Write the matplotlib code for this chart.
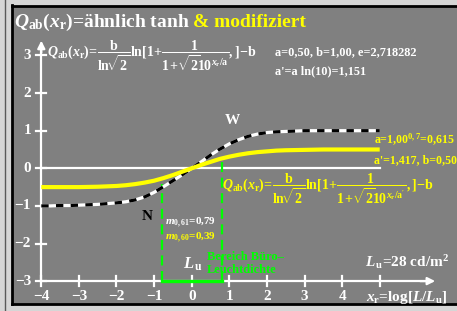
import matplotlib

matplotlib.use("Agg")
import matplotlib.pyplot as plt
from matplotlib.lines import Line2D

plt.rcParams["font.family"] = ["Liberation Serif", "DejaVu Serif"]
plt.rcParams["font.weight"] = "bold"
plt.rcParams["mathtext.fontset"] = "custom"
plt.rcParams["mathtext.rm"] = "Liberation Serif:bold"
plt.rcParams["mathtext.it"] = "Liberation Serif:italic:bold"
plt.rcParams["mathtext.bf"] = "Liberation Serif:bold"

# --- data ------------------------------------------------------------------
x_ticks = [-4, -3, -2, -1, 0, 1, 2, 3, 4, 5]
x_labels = ["\u22124", "\u22123", "\u22122", "\u22121", "0", "1", "2", "3", "4", ""]
y_ticks = [-3, -2, -1, 0, 1, 2, 3]
y_labels = ["\u22123", "\u22122", "\u22121", "0", "1", "2", "3"]

curve_x = [-4.0, -3.75, -3.5, -3.25, -3.0, -2.75, -2.5, -2.25, -2.0, -1.75,
           -1.5, -1.25, -1.0, -0.75, -0.5, -0.25, 0.0, 0.25, 0.5, 0.75,
           1.0, 1.25, 1.5, 1.75, 2.0, 2.25, 2.5, 2.75, 3.0, 3.5, 4.0, 4.5, 5.0]
black_y = [-1.00, -1.00, -0.99, -0.99, -0.98, -0.97, -0.96, -0.94, -0.92, -0.89,
           -0.84, -0.76, -0.64, -0.49, -0.33, -0.17, 0.00, 0.17, 0.35, 0.51,
           0.65, 0.76, 0.85, 0.91, 0.95, 0.97, 0.98, 0.99, 1.00, 1.00, 1.00, 1.00, 1.00]
yellow_y = [-0.50, -0.50, -0.50, -0.50, -0.50, -0.495, -0.49, -0.48, -0.47, -0.45,
            -0.42, -0.38, -0.33, -0.26, -0.18, -0.09, 0.00, 0.09, 0.17, 0.25,
            0.31, 0.36, 0.40, 0.43, 0.45, 0.47, 0.48, 0.485, 0.49, 0.50, 0.50, 0.50, 0.50]

green_x = [-0.8, 0.8]
green_top = [-0.42, 0.18]
axis_bottom = -3
x_arrow_end = 6.55
y_arrow_end = 3.47

# --- layout: pixel grid of the 457x311 reference ---------------------------
W, H = 457, 311
X0, Y0, S = 191.7, 168.3, 37.6  # pixel of data origin, pixels per unit


def P(px, py):
    return (px - X0) / S, (Y0 - py) / S


fig = plt.figure(figsize=(W / 100, H / 100), dpi=100, facecolor="#d6d6d6")
fig.add_artist(Line2D([4.5 / W, 4.5 / W], [0, 1], color="#5a5a5a", lw=1.0))
ax = fig.add_axes([12 / W, (H - 304) / H, (W + 6 - 12) / W, (304 - 5.5) / H])
ax.set_facecolor("#808080")
ax.set_xlim((12 - X0) / S, (W + 6 - X0) / S)
ax.set_ylim((Y0 - 304) / S, (Y0 - 5.5) / S)
ax.set_xticks([])
ax.set_yticks([])
for side in ("left", "top", "bottom"):
    ax.spines[side].set_color("black")
    ax.spines[side].set_linewidth(2.0)
ax.spines["right"].set_visible(False)

white = "white"
yellow = "#ffff00"
green = "#00ff00"

# axes drawn inside the plot
ax.plot([x_ticks[0], x_ticks[-1]], [0, 0], color=white, lw=1.6, zorder=2)
ax.plot([x_ticks[0], x_ticks[0]], [axis_bottom, 3.2], color=white, lw=1.6, zorder=2)
ax.plot([x_ticks[0], 6.3], [axis_bottom, axis_bottom], color=white, lw=1.6, zorder=2)
ax.annotate("", xy=(x_ticks[0], y_arrow_end), xytext=(x_ticks[0], 3.0),
            arrowprops=dict(arrowstyle="-|>", color=white, lw=1.6, mutation_scale=11))
ax.annotate("", xy=(x_arrow_end, axis_bottom), xytext=(6.0, axis_bottom),
            arrowprops=dict(arrowstyle="-|>", color=white, lw=1.6, mutation_scale=11))
tk = 5 / S
for xt, lab in zip(x_ticks, x_labels):
    ax.plot([xt, xt], [axis_bottom - tk, axis_bottom + tk], color=white, lw=1.6)
    ax.text(xt, P(0, 297)[1], lab, color=white, fontsize=11, ha="center", va="center")
for yt, lab in zip(y_ticks, y_labels):
    ax.plot([x_ticks[0] - tk, x_ticks[0] + tk], [yt, yt], color=white, lw=1.6)
    ax.text(P(31, 0)[0], yt, lab, color=white, fontsize=11, ha="right", va="center")

# curves
ax.plot(curve_x, black_y, color=white, lw=2.3, solid_capstyle="butt", zorder=3)
ax.plot(curve_x, black_y, color="black", lw=2.3, dashes=(2.3, 2.3), zorder=3)
ax.plot(curve_x, yellow_y, color=yellow, lw=3.0, solid_capstyle="butt", zorder=4)

# green office-luminance range
for gx, gt in zip(green_x, green_top):
    ax.plot([gx, gx], [axis_bottom, gt], color=green, lw=1.6, dashes=(4.5, 2.5), zorder=2)
ax.plot(green_x, [axis_bottom, axis_bottom], color=green, lw=2.4, zorder=3)

# texts
ax.text(*P(14, 27), r"$Q_{\mathrm{ab}}(x_{\mathrm{r}})$=ähnlich tanh", color=white,
        fontsize=14, ha="left", va="baseline")
ax.text(*P(193, 27), "& modifiziert", color=yellow, fontsize=14, ha="left", va="baseline")

formula = (r"$Q_{\mathrm{ab}}(x_{\mathrm{r}})\!=\!\dfrac{\mathrm{b}}{\mathrm{ln}\!\sqrt{2}}"
           r"\mathrm{ln}[1\!+\!\dfrac{1}{1\!+\!\sqrt{2}\!10^{x_{\mathrm{r}}/\mathrm{a}}},]\!-\!\mathrm{b}$")
ax.text(*P(47, 56), formula, color=white, fontsize=10, ha="left", va="center")
ax.text(*P(275, 52), "a=0,50, b=1,00, e=2,718282", color=white, fontsize=8.8,
        ha="left", va="center")
ax.text(*P(275, 71), "a'=a ln(10)=1,151", color=white, fontsize=8.8, ha="left", va="center")

formula_y = (r"$Q_{\mathrm{ab}}(x_{\mathrm{r}})\!=\!\dfrac{\mathrm{b}}{\mathrm{ln}\!\sqrt{2}}"
             r"\mathrm{ln}[1\!+\!\dfrac{1}{1\!+\!\sqrt{2}\!10^{x_{\mathrm{r}}/\mathrm{a'}}},]\!-\!\mathrm{b}$")
ax.text(*P(222, 189), formula_y, color=yellow, fontsize=10, ha="left", va="center")
ax.text(*P(374, 140), r"a=1,00$^{\mathrm{0,7}}$=0,615", color=yellow, fontsize=8.6,
        ha="left", va="center")
ax.text(*P(374, 160), "a'=1,417, b=0,50", color=yellow, fontsize=8.6, ha="left", va="center")

ax.text(*P(232, 121), "W", color=white, fontsize=11, ha="center", va="center")
ax.text(*P(147, 216), "N", color="black", fontsize=11, ha="center", va="center")

ax.text(*P(165, 223), r"$m_{0,61}$=0,79", color=white, fontsize=8, ha="left", va="center")
ax.text(*P(165, 238), r"$m_{0,60}$=0,39", color=yellow, fontsize=8, ha="left", va="center")
ax.text(*P(183, 264), r"$L_{\,\mathrm{u}}$", color=white, fontsize=12, ha="left", va="center")
ax.text(*P(207, 257), "Bereich Büro\u2013", color=green, fontsize=9, ha="left", va="center")
ax.text(*P(207, 270), "Leuchtdichte", color=green, fontsize=9, ha="left", va="center")
ax.text(*P(365, 262), r"$L_{\,\mathrm{u}}$=28 cd/m$^{\mathrm{2}}$", color=white, fontsize=11,
        ha="left", va="center")
ax.text(*P(366, 297), r"$x_{\mathrm{r}}$=log[$L/L_{\mathrm{u}}$]", color=white, fontsize=11,
        ha="left", va="center")

fig.savefig("out.png", dpi=100, facecolor=fig.get_facecolor())
